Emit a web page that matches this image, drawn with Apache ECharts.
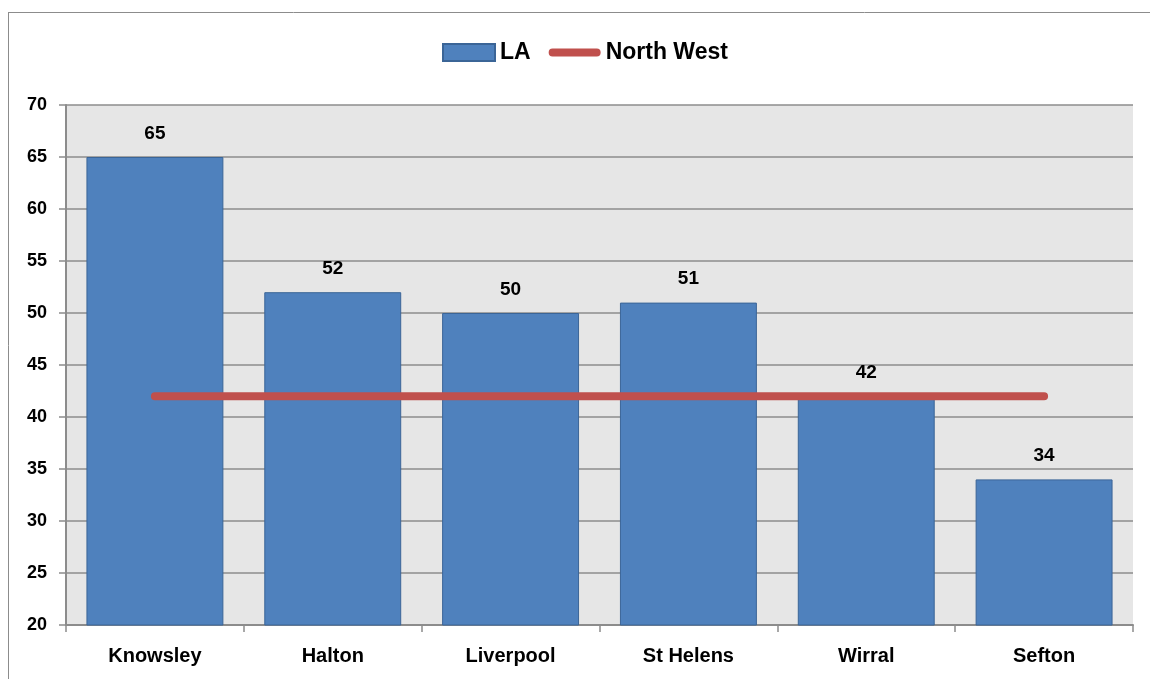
<!DOCTYPE html>
<html>
<head>
<meta charset="utf-8">
<script src="https://cdn.jsdelivr.net/npm/echarts@6/dist/echarts.min.js"></script>
<style>html,body{margin:0;padding:0;background:#fff}#c{width:1150px;height:679px}</style>
</head>
<body>
<div id="c"></div>
<script>
var categories = ["Knowsley", "Halton", "Liverpool", "St Helens", "Wirral", "Sefton"];
var laValues = [65, 52, 50, 51, 42, 34];
var northWestValues = [42, 42, 42, 42, 42, 42];
var yTicks = [20, 25, 30, 35, 40, 45, 50, 55, 60, 65, 70];

var FONT = "'Liberation Sans', Arial, sans-serif";
var chart = echarts.init(document.getElementById('c'), null, {renderer: 'canvas'});
chart.setOption({
  backgroundColor: '#ffffff',
  animation: false,
  textStyle: {fontFamily: FONT},
  graphic: [
    {type: 'line', shape: {x1: 8, y1: 12.5, x2: 1150, y2: 12.5}, style: {stroke: '#8c8c8c', lineWidth: 1}},
    {type: 'line', shape: {x1: 8.5, y1: 12, x2: 8.5, y2: 679}, style: {stroke: '#8c8c8c', lineWidth: 1}}
  ],
  legend: {
    top: 36,
    left: 437,
    padding: 5,
    itemGap: 18,
    itemWidth: 52,
    itemHeight: 17,
    textStyle: {fontFamily: FONT, fontWeight: 'bold', fontSize: 23, color: '#000'},
    data: [
      {name: 'LA', icon: 'rect'},
      {name: 'North West', icon: 'path://M4.5,0 L55.5,0 A4.5,4.5 0 0 1 55.5,9 L4.5,9 A4.5,4.5 0 0 1 4.5,0 Z', itemStyle: {color: '#c0504d'}}
    ]
  },
  grid: {left: 66, right: 17, top: 105, bottom: 54, show: true, backgroundColor: '#e6e6e6', borderWidth: 0},
  xAxis: {
    type: 'category',
    data: categories,
    axisLine: {show: true, lineStyle: {color: '#8c8c8c', width: 2}},
    axisTick: {show: true, length: 7, lineStyle: {color: '#8c8c8c', width: 1.5}},
    axisLabel: {fontFamily: FONT, fontWeight: 'bold', fontSize: 20, color: '#000', margin: 21},
    splitLine: {show: false}
  },
  yAxis: {
    type: 'value',
    min: 20, max: 70, interval: 5,
    axisLine: {show: true, lineStyle: {color: '#8c8c8c', width: 2}},
    axisTick: {show: true, length: 7, lineStyle: {color: '#8c8c8c', width: 1.5}},
    axisLabel: {fontFamily: FONT, fontWeight: 'bold', fontSize: 18, color: '#000', margin: 19,
      formatter: function (v) { return yTicks.indexOf(v) >= 0 ? String(v) : ''; }},
    splitLine: {show: true, lineStyle: {color: '#8c8c8c', width: 1.5}}
  },
  series: [
    {
      name: 'LA',
      type: 'bar',
      data: laValues,
      barCategoryGap: '23%',
      itemStyle: {color: '#4f81bd', borderColor: '#3b6597', borderWidth: 1},
      label: {show: true, position: 'top', distance: 14, fontFamily: FONT, fontWeight: 'bold', fontSize: 19, color: '#000'},
      z: 2
    },
    {
      name: 'North West',
      type: 'line',
      data: northWestValues,
      symbol: 'none',
      lineStyle: {color: '#c0504d', width: 8, cap: 'round'},
      itemStyle: {color: '#c0504d'},
      z: 3
    }
  ]
});
</script>
</body>
</html>
